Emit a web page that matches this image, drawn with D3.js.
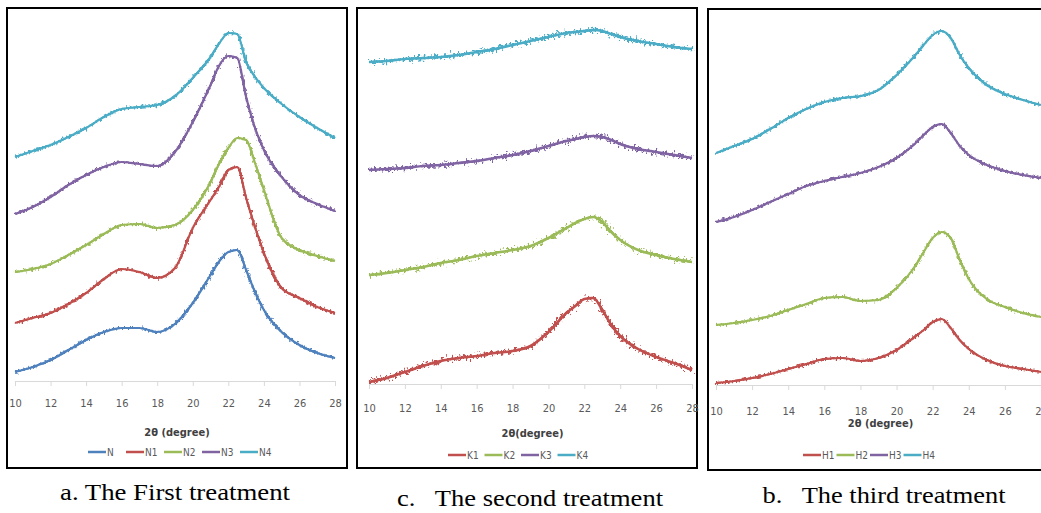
<!DOCTYPE html>
<html>
<head>
<meta charset="utf-8">
<script src="https://cdn.jsdelivr.net/npm/d3@7"></script>
<style>
  body { margin: 0; background: #fff; }
  svg { display: block; }
  .tick text { font-family: "Liberation Sans Narrow", "DejaVu Sans Condensed", sans-serif; fill: #595959; }
</style>
</head>
<body>
<div id="whiteboard"></div>
<script>
const twoTheta = [10, 11, 12, 13, 14, 15, 16, 17, 18, 19, 20, 21, 21.5, 22, 22.5, 23, 23.5, 24, 25, 26, 27, 28];
const tickValues = [10, 12, 14, 16, 18, 20, 22, 24, 26, 28];

// first treatment (intensity, a.u., stacked)
const seriesN  = [9, 14, 21, 31, 41, 49, 53, 53, 49, 57, 78, 106, 120, 129, 131, 111, 89, 71, 49, 36, 28, 23];
const seriesN1 = [58, 63, 68, 77, 88, 102, 112, 109, 103, 113, 153, 181, 195, 211, 214, 183, 154, 128, 93, 83, 74, 68];
const seriesN2 = [109, 112, 117, 126, 136, 147, 156, 157, 153, 156, 171, 199, 218, 233, 243, 241, 218, 191, 143, 131, 125, 120];
const seriesN3 = [167, 174, 184, 196, 206, 214, 219, 217, 215, 229, 259, 296, 316, 325, 323, 284, 253, 231, 204, 186, 177, 170];
const seriesN4 = [224, 230, 236, 244, 253, 264, 272, 274, 276, 285, 303, 324, 338, 348, 347, 319, 304, 293, 277, 264, 253, 243];

// second treatment
const seriesK1 = [2, 6, 12, 18, 23, 26, 28, 31, 33, 38, 52, 71, 78, 85, 86, 74, 59, 48, 35, 27, 21, 14];
const seriesK2 = [109, 111, 114, 117, 121, 124, 128, 131, 134, 138, 146, 156, 161, 165, 167, 162, 152, 144, 134, 129, 125, 122];
const seriesK3 = [214, 215, 216, 218, 219, 221, 223, 226, 229, 233, 238, 243, 245, 247, 248, 247, 244, 240, 235, 232, 229, 226];
const seriesK4 = [322, 323, 325, 326, 327, 329, 332, 335, 339, 343, 347, 351, 352, 353, 354, 353, 350, 347, 343, 340, 337, 335];

// third treatment
const seriesH1 = [2, 4, 7, 11, 16, 21, 26, 27, 24, 27, 35, 48, 55, 63, 66, 57, 45, 36, 25, 19, 16, 13];
const seriesH2 = [60, 62, 65, 69, 75, 81, 87, 88, 84, 85, 97, 118, 133, 147, 153, 147, 125, 106, 86, 78, 72, 68];
const seriesH3 = [163, 168, 175, 183, 191, 199, 204, 208, 212, 218, 227, 241, 250, 258, 261, 252, 239, 230, 220, 214, 210, 207];
const seriesH4 = [232, 239, 246, 256, 267, 276, 283, 287, 289, 295, 310, 329, 340, 350, 354, 347, 330, 317, 300, 291, 285, 280];

const colors = ["#4f81bd", "#c0504d", "#9bbb59", "#8064a2", "#4bacc6"];

const panels = [
  { frame: [7, 8, 340, 460], x0: 15, x1: 335, axisY: 381, pad: 13, titleY: 436, title: "2θ (degree)",
    legendY: 452, legendX: 88, legendStep: 38, noise: 6, width: 2.2,
    capX: 175, capY: 500, capW: 230, caption: "a. The First treatment",
    names: ["N", "N1", "N2", "N3", "N4"], data: [seriesN, seriesN1, seriesN2, seriesN3, seriesN4], colors: colors },
  { frame: [357, 8, 340, 460], x0: 369, x1: 692, axisY: 384, pad: 15, titleY: 437, title: "2θ(degree)",
    legendY: 455, legendX: 448, legendStep: 36.5, noise: 12, width: 2.6,
    capX: 530, capY: 506, capW: 266, caption: "c.   The second treatment",
    names: ["K1", "K2", "K3", "K4"], data: [seriesK1, seriesK2, seriesK3, seriesK4], colors: colors.slice(1) },
  { frame: [708, 9, 345, 461], x0: 716, x1: 1041, axisY: 385, pad: 17, titleY: 427, title: "2θ (degree)",
    legendY: 455, legendX: 803, legendStep: 33.5, noise: 6, width: 2.2,
    capX: 884, capY: 503, capW: 243, caption: "b.   The third treatment",
    names: ["H1", "H2", "H3", "H4"], data: [seriesH1, seriesH2, seriesH3, seriesH4], colors: colors.slice(1) }
];

const svg = d3.select("#whiteboard")
  .append("svg")
  .attr("width", 1041)
  .attr("height", 513);

const defs = svg.append("defs");

panels.forEach((p, pi) => {
  // jitter filter so the traces look like raw diffractograms
  const f = defs.append("filter")
    .attr("id", "jitter" + pi)
    .attr("x", "-5%").attr("y", "-30%")
    .attr("width", "110%").attr("height", "160%");
  f.append("feTurbulence")
    .attr("type", "fractalNoise")
    .attr("baseFrequency", "0.5 0.3")
    .attr("numOctaves", 2)
    .attr("seed", 4 + pi)
    .attr("result", "t");
  f.append("feDisplacementMap")
    .attr("in", "SourceGraphic")
    .attr("in2", "t")
    .attr("scale", p.noise)
    .attr("xChannelSelector", "R")
    .attr("yChannelSelector", "G")
    .attr("result", "d");
  const m = f.append("feMerge");
  m.append("feMergeNode").attr("in", "SourceGraphic");
  m.append("feMergeNode").attr("in", "d");

  const g = svg.append("g");

  g.append("rect")
    .attr("x", p.frame[0]).attr("y", p.frame[1])
    .attr("width", p.frame[2]).attr("height", p.frame[3])
    .attr("fill", "#fff")
    .attr("stroke", "#000")
    .attr("stroke-width", 2);

  const x = d3.scaleLinear().domain([10, 28]).range([p.x0, p.x1]);
  const y = d3.scaleLinear().domain([0, 360]).range([p.axisY, p.axisY - 360]);

  const line = d3.line()
    .x((d, i) => x(twoTheta[i]))
    .y(d => y(d))
    .curve(d3.curveMonotoneX);

  g.append("g")
    .attr("filter", "url(#jitter" + pi + ")")
    .selectAll("path")
    .data(p.data)
    .enter().append("path")
    .attr("d", line)
    .attr("fill", "none")
    .attr("stroke", (d, i) => p.colors[i])
    .attr("stroke-width", p.width)
    .attr("stroke-linejoin", "round");

  const axis = g.append("g")
    .attr("transform", "translate(0," + p.axisY + ")")
    .call(d3.axisBottom(x).tickValues(tickValues).tickSize(5).tickSizeOuter(0).tickPadding(p.pad));
  axis.select(".domain").attr("stroke", "#d9d9d9");
  axis.selectAll(".tick line").attr("stroke", "#d9d9d9");
  axis.selectAll(".tick text").attr("font-size", 11);

  g.append("text")
    .attr("x", (p.x0 + p.x1) / 2 + 2)
    .attr("y", p.titleY)
    .attr("text-anchor", "middle")
    .attr("font-family", "'Liberation Sans Narrow', 'DejaVu Sans Condensed', sans-serif")
    .attr("font-size", 11)
    .attr("font-weight", "bold")
    .attr("fill", "#404040")
    .text(p.title);

  // legend
  const leg = g.selectAll(".leg")
    .data(p.names)
    .enter().append("g")
    .attr("transform", (d, i) => "translate(" + (p.legendX + i * p.legendStep) + "," + p.legendY + ")");
  leg.append("line")
    .attr("x1", 0).attr("x2", 18)
    .attr("stroke", (d, i) => p.colors[i])
    .attr("stroke-width", 2.5);
  leg.append("text")
    .attr("x", 19)
    .attr("dy", "0.35em")
    .attr("font-family", "'Liberation Sans Narrow', 'DejaVu Sans Condensed', sans-serif")
    .attr("font-size", 10)
    .attr("fill", "#595959")
    .text(d => d);

  svg.append("text")
    .attr("x", p.capX)
    .attr("y", p.capY)
    .attr("text-anchor", "middle")
    .attr("font-family", "'Liberation Serif', 'Times New Roman', serif")
    .attr("font-size", 24)
    .attr("fill", "#000")
    .attr("textLength", p.capW)
    .attr("lengthAdjust", "spacingAndGlyphs")
    .style("white-space", "pre")
    .text(p.caption);
});
</script>
</body>
</html>
